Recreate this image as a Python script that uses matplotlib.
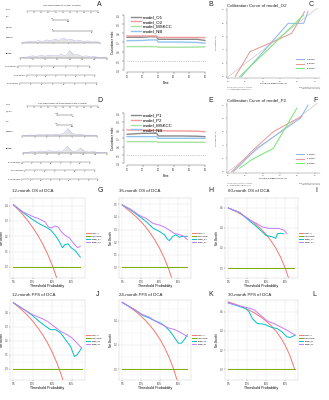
import matplotlib
matplotlib.use("Agg")
import matplotlib.pyplot as plt
import numpy as np

plt.rcParams['font.family'] = ['Liberation Sans', 'DejaVu Sans']

# ---------------- data ----------------
# B / E : concordance index over time
cidx_time = [10, 20, 24, 29, 30, 45, 55, 60]
cidx_O1 = [0.757, 0.757, 0.762, 0.762, 0.735, 0.735, 0.735, 0.722]
cidx_O2 = [0.771, 0.771, 0.771, 0.771, 0.755, 0.755, 0.755, 0.753]
cidx_O_mskcc = [0.655, 0.655, 0.655, 0.655, 0.648, 0.648, 0.650, 0.652]
cidx_O_nb = [0.720, 0.722, 0.728, 0.728, 0.705, 0.705, 0.700, 0.693]
cidx_P1 = [0.748, 0.760, 0.760, 0.760, 0.728, 0.728, 0.725, 0.720]
cidx_P2 = [0.800, 0.798, 0.798, 0.796, 0.790, 0.788, 0.785, 0.780]
cidx_P_mskcc = [0.660, 0.660, 0.660, 0.660, 0.652, 0.652, 0.652, 0.652]
cidx_P_nb = [0.720, 0.720, 0.720, 0.720, 0.700, 0.700, 0.700, 0.700]

# C / F : calibration curves
cal_O2_x12 = [0.15, 0.69, 0.87, 0.92]
cal_O2_y12 = [0.00, 0.80, 0.80, 0.98]
cal_O2_x36 = [0.08, 0.25, 0.52, 0.73, 0.88]
cal_O2_y36 = [0.00, 0.375, 0.525, 0.65, 0.975]
cal_O2_x60 = [0.13, 0.50, 0.87]
cal_O2_y60 = [0.00, 0.46, 0.925]
cal_P2_x12 = [0.06, 0.33, 0.83, 0.92]
cal_P2_y12 = [0.00, 0.35, 0.80, 1.00]
cal_P2_x24 = [0.04, 0.29, 0.52, 0.73, 0.85]
cal_P2_y24 = [0.00, 0.33, 0.60, 0.75, 0.83]
cal_P2_x30 = [0.13, 0.27, 0.52, 0.79]
cal_P2_y30 = [0.05, 0.18, 0.35, 0.95]

# G..L : decision curves
G_all_x = [0, 0.05, 0.1, 0.15, 0.2, 0.25, 0.3, 0.35, 0.4, 0.45]
G_all_y = [0.405, 0.374, 0.339, 0.300, 0.256, 0.207, 0.150, 0.085, 0.008, -0.082]
G_m1_x = [0, 0.1, 0.2, 0.267, 0.333, 0.383, 0.427, 0.47, 0.503, 0.53, 0.56, 0.593, 0.637, 0.687]
G_m1_y = [0.406, 0.354, 0.308, 0.281, 0.26, 0.24, 0.208, 0.167, 0.125, 0.146, 0.15, 0.125, 0.104, 0.063]
G_m2_x = [0, 0.1, 0.2, 0.267, 0.327, 0.36, 0.393, 0.427, 0.46, 0.493, 0.527, 0.577, 0.627, 0.66, 0.687]
G_m2_y = [0.406, 0.358, 0.329, 0.313, 0.292, 0.26, 0.254, 0.267, 0.26, 0.229, 0.208, 0.188, 0.146, 0.125, 0.135]
G_none_x = [0, 0.687]

H_all_x = [0, 0.05, 0.1, 0.15, 0.2, 0.25, 0.3, 0.35, 0.4, 0.45, 0.5, 0.55]
H_all_y = [0.495, 0.463, 0.433, 0.40, 0.363, 0.32, 0.271, 0.215, 0.15, 0.073, -0.02, -0.133]
H_m1_x = [0, 0.087, 0.19, 0.26, 0.33, 0.4, 0.45, 0.487, 0.504, 0.54, 0.574, 0.61, 0.643, 0.696]
H_m1_y = [0.495, 0.457, 0.40, 0.36, 0.31, 0.284, 0.259, 0.22, 0.213, 0.246, 0.259, 0.239, 0.246, 0.246]
H_m2_x = [0, 0.087, 0.19, 0.26, 0.33, 0.4, 0.45, 0.5, 0.556, 0.61, 0.66, 0.696]
H_m2_y = [0.495, 0.462, 0.41, 0.386, 0.348, 0.335, 0.32, 0.297, 0.27, 0.26, 0.246, 0.22]
H_none_x = [0, 0.696]

I_all_x = [0, 0.05, 0.1, 0.15, 0.2, 0.25, 0.3, 0.35, 0.4, 0.45, 0.5, 0.55, 0.6, 0.65]
I_all_y = [0.6, 0.579, 0.556, 0.529, 0.5, 0.467, 0.429, 0.385, 0.333, 0.273, 0.2, 0.111, 0.0, -0.143]
I_m1_x = [0, 0.12, 0.224, 0.293, 0.345, 0.397, 0.466, 0.5, 0.517, 0.552, 0.586]
I_m1_y = [0.6, 0.555, 0.47, 0.418, 0.372, 0.326, 0.311, 0.296, 0.341, 0.348, 0.341]
I_m2_x = [0, 0.12, 0.224, 0.293, 0.362, 0.431, 0.483, 0.534, 0.586, 0.62]
I_m2_y = [0.6, 0.555, 0.479, 0.448, 0.409, 0.396, 0.396, 0.396, 0.378, 0.341]
I_none_x = [0, 0.69]

J_all_x = [0, 0.05, 0.1, 0.15, 0.2, 0.25, 0.3, 0.35, 0.4, 0.45, 0.5, 0.55]
J_all_y = [0.47, 0.442, 0.411, 0.377, 0.338, 0.293, 0.243, 0.185, 0.117, 0.036, -0.06, -0.178]
J_m1_x = [0, 0.112, 0.197, 0.264, 0.332, 0.383, 0.434, 0.485, 0.536, 0.586, 0.627, 0.654, 0.7]
J_m1_y = [0.47, 0.421, 0.379, 0.338, 0.302, 0.279, 0.279, 0.255, 0.207, 0.16, 0.088, 0.1, 0.148]
J_m2_x = [0, 0.112, 0.197, 0.28, 0.35, 0.417, 0.485, 0.553, 0.603, 0.654, 0.7]
J_m2_y = [0.47, 0.421, 0.386, 0.362, 0.338, 0.302, 0.267, 0.243, 0.219, 0.183, 0.148]
J_none_x = [0, 0.7]

K_all_x = [0, 0.05, 0.1, 0.15, 0.2, 0.25, 0.3, 0.35, 0.4, 0.45, 0.5, 0.55, 0.6]
K_all_y = [0.55, 0.526, 0.5, 0.471, 0.438, 0.4, 0.357, 0.308, 0.25, 0.182, 0.1, 0.0, -0.125]
K_m1_x = [0, 0.129, 0.216, 0.285, 0.337, 0.407, 0.459, 0.511, 0.563, 0.598, 0.633, 0.668, 0.696]
K_m1_y = [0.55, 0.492, 0.445, 0.423, 0.403, 0.381, 0.354, 0.312, 0.257, 0.215, 0.215, 0.249, 0.285]
K_m2_x = [0, 0.129, 0.216, 0.285, 0.355, 0.424, 0.494, 0.563, 0.633, 0.696]
K_m2_y = [0.55, 0.492, 0.45, 0.431, 0.395, 0.367, 0.34, 0.326, 0.298, 0.27]
K_none_x = [0, 0.696]

L_all_x = [0, 0.05, 0.1, 0.15, 0.2, 0.25, 0.3, 0.35, 0.4, 0.45, 0.5, 0.55, 0.6, 0.65, 0.7]
L_all_y = [0.7, 0.684, 0.667, 0.647, 0.625, 0.6, 0.571, 0.538, 0.5, 0.455, 0.4, 0.333, 0.25, 0.143, 0.0]
L_m1_x = [0, 0.132, 0.184, 0.219, 0.253, 0.306, 0.375, 0.462, 0.514, 0.566, 0.618, 0.653, 0.705]
L_m1_y = [0.69, 0.648, 0.631, 0.597, 0.528, 0.476, 0.469, 0.434, 0.424, 0.39, 0.338, 0.331, 0.355]
L_m2_x = [0, 0.132, 0.2, 0.27, 0.34, 0.41, 0.48, 0.55, 0.618, 0.705]
L_m2_y = [0.69, 0.655, 0.641, 0.62, 0.562, 0.503, 0.476, 0.441, 0.407, 0.355]
L_none_x = [0, 0.705]

# nomograms (A: OS, D: PFS)
nomo_pts_ticks = [0, 10, 20, 30, 40, 50, 60, 70, 80, 90, 100]
A_var_names = ['CEA', 'N_stage']
A_var_levels = [['Low', 'High'], ['N0', 'N+']]
A_var_points = [[36, 58], [36, 91]]
A_cont_names = ['Radscore', 'MSKCC']
A_cont_ticks = [['-3', '-2', '-1', '0', '1', '2'], ['0', '20', '40', '60', '80', '100', '120', '140']]
A_cont_dens = [[0.2, 0.6, 1.4, 0.8, 1.8, 1.1, 2.6, 1.7, 3.4, 2.0, 4.6, 2.4, 3.2, 1.4, 2.3, 0.9, 1.6, 0.5, 0.9, 0.2],
               [0.2, 0.5, 1.2, 2.2, 1.4, 2.8, 1.8, 3.0, 2.2, 2.4, 3.6, 2.0, 7.5, 3.0, 3.4, 1.6, 2.2, 1.0, 1.4, 0.6, 0.8, 0.2]]
A_pr_names = ['12-month OS', '36-month OS', '60-month OS']
A_pr_ticks = [['0.95', '0.9', '0.8', '0.7', '0.6', '0.5', '0.4'],
              ['0.9', '0.8', '0.7', '0.6', '0.5', '0.4', '0.3', '0.2'],
              ['0.9', '0.8', '0.7', '0.5', '0.4', '0.3', '0.2', '0.1']]

D_var_names = ['T_stage', 'CEA']
D_var_levels = [['T1-3', 'T4'], ['Low', 'High']]
D_var_points = [[42, 64], [42, 64]]
D_cont_names = ['Radscore', 'MSKCC']
D_cont_ticks = [['-3', '-2', '-1', '0', '1', '2', '3'], ['0', '20', '40', '60', '80', '100', '120', '140']]
D_cont_dens = [[0.2, 0.5, 1.0, 0.7, 1.4, 1.0, 1.6, 1.2, 2.0, 1.5, 2.6, 7.5, 3.0, 1.2, 1.8, 0.8, 1.0, 0.4, 0.2],
               [0.2, 0.6, 1.3, 1.0, 2.0, 1.6, 2.4, 1.4, 2.0, 1.8, 6.5, 2.0, 1.5, 5.0, 1.6, 1.0, 1.4, 0.6, 0.3, 0.2]]
D_pr_names = ['12-month PFS', '24-month PFS', '30-month PFS']
D_pr_ticks = [['0.95', '0.9', '0.8', '0.7', '0.6', '0.5', '0.4', '0.3'],
              ['0.9', '0.8', '0.7', '0.6', '0.5', '0.4', '0.3', '0.2'],
              ['0.9', '0.8', '0.7', '0.6', '0.5', '0.4', '0.3', '0.2', '0.1']]

# ---------------- figure ----------------
W, H = 329.0, 400.0
fig = plt.figure(figsize=(3.29, 4.0), dpi=100)


def px(l, t, r, b):
    return [l / W, 1 - b / H, (r - l) / W, (b - t) / H]


def ftext(x, y, s, **kw):
    fig.text(x / W, 1 - y / H, s, **kw)


# ---- nomograms drawn in a pixel coordinate axes
nax = fig.add_axes(px(0, 0, 110, 190))
nax.set_xlim(0, 110)
nax.set_ylim(190, 0)
nax.axis('off')
AX_C = '#444444'


def hscale(x0, x1, y, labels, positions=None, fs=1.1):
    if positions is None:
        positions = np.linspace(x0, x1, len(labels))
    nax.plot([x0, x1], [y, y], color=AX_C, lw=0.25)
    for p, lab in zip(positions, labels):
        nax.plot([p, p], [y, y + 0.7], color=AX_C, lw=0.2)
        nax.text(p, y + 0.9, lab, fontsize=fs, ha='center', va='top', color='#333333')


def density(x0, x1, base, heights):
    xs = np.linspace(x0, x1, len(heights))
    ys = base - np.array(heights)
    nax.fill_between(xs, base, ys, color='#e3e3e3', lw=0)
    nax.plot(xs, ys, color='#a8a8e6', lw=0.3)


def nomogram(top, title, var_names, var_levels, var_points, cont_names, cont_ticks, cont_dens,
             pr_names, pr_ticks, row_y, var_x):
    p0, p1 = 27, 98
    nax.text(62, top, title, fontsize=1.7, ha='center', va='center', color='#222222')
    y = top + row_y[0]
    nax.text(6, y - 1.5, 'Points', fontsize=1.3, ha='left', va='center')
    pos = [p0 + (p1 - p0) * v / 100 for v in nomo_pts_ticks]
    hscale(p0, p1, y, [str(v) for v in nomo_pts_ticks], pos)
    for k in range(2):
        y = top + row_y[1 + k]
        nax.text(6, y - 3.5, var_names[k], fontsize=1.3, ha='left', va='center')
        xs = [p0 + (p1 - p0) * v / 100 for v in var_points[k]]
        nax.plot(xs, [y, y], color=AX_C, lw=0.3)
        for j, (xx, lab) in enumerate(zip(xs, var_levels[k])):
            nax.plot([xx, xx], [y - 0.6, y + 0.6], color=AX_C, lw=0.2)
            nax.text(xx, y - 1.0 if j == 0 else y + 1.0, lab, fontsize=1.1,
                     ha='center', va='bottom' if j == 0 else 'top')
    for k in range(2):
        y = top + row_y[3 + k]
        nax.text(6, y - 4.5, cont_names[k], fontsize=1.3, ha='left', va='center',
                 fontweight='bold' if k == 1 else 'normal')
        x0, x1 = var_x[k]
        density(x0, x1, y, cont_dens[k])
        hscale(x0, x1, y, cont_ticks[k])
    for k in range(3):
        y = top + row_y[5 + k]
        x0, x1 = var_x[2 + k]
        nax.text(x0 - 1, y, 'Pr( ' + pr_names[k] + ' )', fontsize=1.1, ha='right', va='center')
        hscale(x0, x1, y, pr_ticks[k])


nomogram(6, 'Cox Regression of Overall Survival', A_var_names, A_var_levels, A_var_points,
         A_cont_names, A_cont_ticks, A_cont_dens, A_pr_names, A_pr_ticks,
         [5, 14, 25, 36.5, 52, 60, 69, 77], [(22, 100), (20, 107), (18, 90), (27, 95), (20, 97)])
nomogram(103, 'Cox Regression of Progression-Free Survival', D_var_names, D_var_levels, D_var_points,
         D_cont_names, D_cont_ticks, D_cont_dens, D_pr_names, D_pr_ticks,
         [3, 12, 22, 33, 50, 59, 67, 76], [(22, 97), (23, 107), (22, 90), (25, 95), (22, 98)])


# ---- B / E : C-index over time
def cindex_panel(rect, series, names):
    ax = fig.add_axes(px(*rect))
    cols = ['#8a8a8a', '#ee9a9a', '#a6e3a0', '#90c4ee']
    for s, n, c in zip(series, names, cols):
        ax.plot(cidx_time, s, color=c, lw=1.0, label=n)
    ax.plot([10, 60], [0.5, 0.5], color='#9a9a9a', lw=0.5, ls=':')
    ax.set_xlim(8, 62)
    ax.set_ylim(0.376, 1.024)
    ax.set_xticks([10, 20, 30, 40, 50, 60])
    ax.set_yticks([0.4, 0.5, 0.6, 0.7, 0.8, 0.9, 1.0])
    for sp in ['top', 'right']:
        ax.spines[sp].set_visible(False)
    ax.spines['left'].set_bounds(0.4, 1.0)
    ax.spines['bottom'].set_bounds(10, 60)
    for sp in ['left', 'bottom']:
        ax.spines[sp].set_linewidth(0.3)
        ax.spines[sp].set_color('#555555')
    ax.tick_params(labelsize=1.8, length=1.2, width=0.3, pad=0.8, colors='#444444')
    for lab in ax.get_yticklabels():
        lab.set_rotation(90)
        lab.set_va('center')
    ax.set_xlabel('Time', fontsize=2.2, labelpad=1.5)
    ax.set_ylabel('Concordance index', fontsize=2.0, labelpad=1.5)
    ax.legend(loc='upper left', bbox_to_anchor=(0.06, 1.0), fontsize=3.2, frameon=False,
              handlelength=2.2, labelspacing=0.15, borderaxespad=0.1, handletextpad=0.5)
    ax.set_facecolor('none')
    return ax


cindex_panel((124, 12.8, 208, 72.2), [cidx_O1, cidx_O2, cidx_O_mskcc, cidx_O_nb],
             ['model_O1', 'model_O2', 'model_MSKCC', 'model_NB'])
cindex_panel((124, 111.3, 208, 165.3), [cidx_P1, cidx_P2, cidx_P_mskcc, cidx_P_nb],
             ['model_P1', 'model_P2', 'model_MSKCC', 'model_NB'])


# ---- C / F : calibration curves
def calib_panel(rect, curves, labels, title, ty, lab_y, outcome):
    ax = fig.add_axes(px(*rect))
    ax.plot([0, 1.1], [0, 1.1], color='#c8c8c8', lw=0.5)
    cols = ['#8cb4e6', '#e89696', '#6fe86f']
    for (xx, yy), lab, c in zip(curves, labels, cols):
        ax.plot(xx, yy, color=c, lw=0.7, label=lab)
    ax.set_xlim(-0.015, 1.058)
    ax.set_ylim(-0.02, 1.03)
    ax.set_xticks([0, 0.2, 0.4, 0.6, 0.8, 1.0])
    ax.set_yticks([0, 0.2, 0.4, 0.6, 0.8, 1.0])
    for sp in ['top', 'right']:
        ax.spines[sp].set_visible(False)
    for sp in ['left', 'bottom']:
        ax.spines[sp].set_linewidth(0.3)
        ax.spines[sp].set_color('#777777')
    ax.tick_params(labelsize=1.4, length=1.0, width=0.3, pad=0.8, colors='#555555')
    ax.set_xlabel('Nomogram-predicted ' + outcome + ' (%)', fontsize=1.5, labelpad=1.2)
    ax.legend(loc='lower right', bbox_to_anchor=(0.97, 0.1), fontsize=1.5, frameon=False,
              handlelength=4, labelspacing=1.6, handletextpad=1.2)
    ftext(rect[0], ty, title, fontsize=3.2, ha='left', va='center', color='#222222')
    ftext(217, (rect[1] + rect[3]) / 2, 'Observed ' + outcome + ' (%)', fontsize=1.4,
          rotation=90, ha='center', va='center', color='#444444')
    ftext(rect[0], lab_y, 'n=342 d=118 p=4, 40 subjects per group\nX - resampling optimism added, B=1000',
          fontsize=0.8, ha='left', va='center', color='#555555')
    ftext(rect[2], lab_y, 'Mean absolute error=0.021 n=342\nBased on observed-predicted',
          fontsize=0.8, ha='right', va='center', color='#555555')
    return ax


calib_panel((227, 8, 320, 78), [(cal_O2_x12, cal_O2_y12), (cal_O2_x36, cal_O2_y36), (cal_O2_x60, cal_O2_y60)],
            ['12-month', '36-month', '60-month'], 'Calibration Curve of model_O2', 5, 88, 'OS')
calib_panel((227, 103, 320, 173), [(cal_P2_x12, cal_P2_y12), (cal_P2_x24, cal_P2_y24), (cal_P2_x30, cal_P2_y30)],
            ['12-month', '24-month', '30-month'], 'Calibration Curve of model_P2', 100, 184, 'PFS')


# ---- G..L : decision curves
def dca_panel(rect, title, tx, ty, all_x, all_y, none_x, m1_x, m1_y, m2_x, m2_y, names, ylim, ystep):
    ax = fig.add_axes(px(*rect))
    ax.plot(all_x, all_y, color='#F8766D', lw=0.7, label='Treat All')
    ax.plot(none_x, [0, 0], color='#7CAE00', lw=0.7, label='Treat None')
    ax.plot(m1_x, m1_y, color='#00BFC4', lw=0.7, label=names[0])
    ax.plot(m2_x, m2_y, color='#C77CFF', lw=0.7, label=names[1])
    ax.set_xlim(-0.035, 0.735)
    ax.set_ylim(*ylim)
    ax.set_xticks([0, 0.2, 0.4, 0.6])
    ax.set_xticklabels(['0%', '20%', '40%', '60%'])
    yt = np.arange(0, ylim[1], ystep)
    ax.set_yticks(yt)
    ax.set_yticklabels(['%.1f' % v for v in yt])
    ax.set_xticks([0.1, 0.3, 0.5, 0.7], minor=True)
    ax.set_yticks(yt + ystep / 2, minor=True)
    ax.grid(True, which='major', color='#e6e6e6', lw=0.35)
    ax.grid(True, which='minor', color='#f2f2f2', lw=0.25)
    ax.set_axisbelow(True)
    for sp in ax.spines.values():
        sp.set_color('#d4d4d4')
        sp.set_linewidth(0.35)
    ax.tick_params(which='major', labelsize=1.8, length=0.8, width=0.3, pad=0.4, colors='#444444')
    ax.tick_params(which='minor', length=0)
    ax.set_xlabel('Threshold Probability', fontsize=2.6, labelpad=0.6)
    ax.set_ylabel('Net Benefit', fontsize=2.0, labelpad=0.5)
    ax.legend(loc='center left', bbox_to_anchor=(1.0, 0.5), fontsize=1.5, frameon=False,
              handlelength=1.8, labelspacing=0.6, handletextpad=0.6, borderaxespad=0.3)
    ftext(tx, ty, title, fontsize=3.2, ha='left', va='center', color='#222222')
    return ax


cols_x = [(10, 85), (119, 191), (225, 298)]
rows_y = [(198, 278), (300, 380)]
tx = [12, 119, 228]

dca_panel((cols_x[0][0], rows_y[0][0], cols_x[0][1], rows_y[0][1]), '12-month OS of DCA', tx[0], 191,
          G_all_x, G_all_y, G_none_x, G_m1_x, G_m1_y, G_m2_x, G_m2_y, ['Model_O1', 'Model_O2'], (-0.073, 0.43), 0.1)
dca_panel((cols_x[1][0], rows_y[0][0], cols_x[1][1], rows_y[0][1]), '36-month OS of DCA', tx[1], 191,
          H_all_x, H_all_y, H_none_x, H_m1_x, H_m1_y, H_m2_x, H_m2_y, ['Model_O1', 'Model_O2'], (-0.084, 0.52), 0.1)
dca_panel((cols_x[2][0], rows_y[0][0], cols_x[2][1], rows_y[0][1]), '60-month OS of DCA', tx[2], 191,
          I_all_x, I_all_y, I_none_x, I_m1_x, I_m1_y, I_m2_x, I_m2_y, ['Model_O1', 'Model_O2'], (-0.1, 0.63), 0.2)
dca_panel((cols_x[0][0], rows_y[1][0], cols_x[0][1], rows_y[1][1]), '12-month PFS of DCA', tx[0], 295,
          J_all_x, J_all_y, J_none_x, J_m1_x, J_m1_y, J_m2_x, J_m2_y, ['Model_P1', 'Model_P2'], (-0.079, 0.49), 0.1)
dca_panel((cols_x[1][0], rows_y[1][0], cols_x[1][1], rows_y[1][1]), '24-month PFS of DCA', tx[1], 295,
          K_all_x, K_all_y, K_none_x, K_m1_x, K_m1_y, K_m2_x, K_m2_y, ['Model_P1', 'Model_P2'], (-0.088, 0.57), 0.2)
dca_panel((cols_x[2][0], rows_y[1][0], cols_x[2][1], rows_y[1][1]), '30-month PFS of DCA', tx[2], 295,
          L_all_x, L_all_y, L_none_x, L_m1_x, L_m1_y, L_m2_x, L_m2_y, ['Model_P1', 'Model_P2'], (-0.11, 0.72), 0.2)

# ---- panel letters
letters = ['A', 'B', 'C', 'D', 'E', 'F', 'G', 'H', 'I', 'J', 'K', 'L']
letter_xy = [(99, 5), (211, 5), (311, 5), (100, 100), (211, 100), (316, 100),
             (100, 191), (211, 191), (316, 191), (98, 295), (211, 295), (314, 295)]
for s, (x, y) in zip(letters, letter_xy):
    ftext(x, y, s, fontsize=5, ha='center', va='center', color='#222222')

fig.savefig('out.png', dpi=100)
